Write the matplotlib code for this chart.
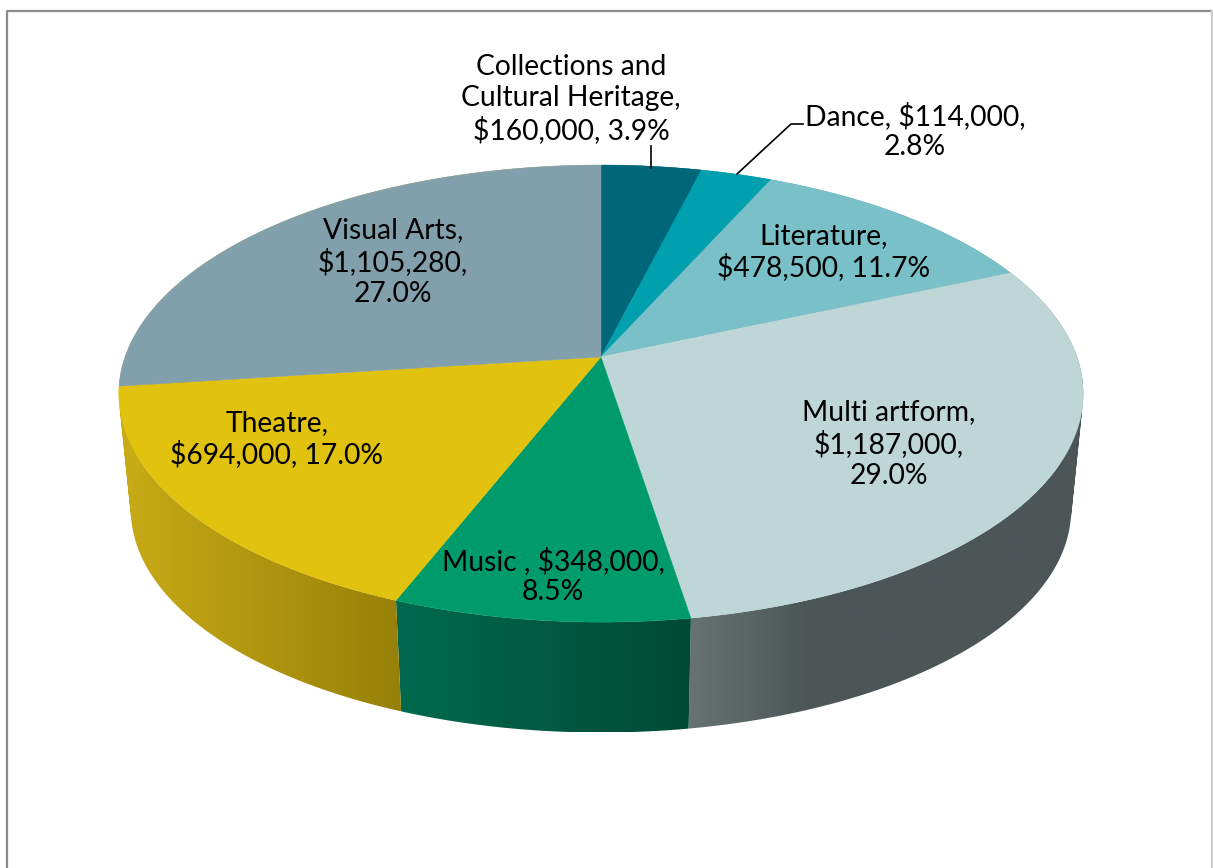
import numpy as np
import matplotlib
matplotlib.use('Agg')
import matplotlib.pyplot as plt
from matplotlib.colors import to_rgb
from matplotlib.patches import PathPatch
from matplotlib.path import Path

categories = ['Collections and Cultural Heritage', 'Dance', 'Literature', 'Multi artform',
              'Music', 'Theatre', 'Visual Arts']
amounts = [160000, 114000, 478500, 1187000, 348000, 694000, 1105280]
labels = ['Collections and\nCultural Heritage,\n$160,000, 3.9%',
          'Dance, $114,000,\n2.8%',
          'Literature,\n$478,500, 11.7%',
          'Multi artform,\n$1,187,000,\n29.0%',
          'Music , $348,000,\n8.5%',
          'Theatre,\n$694,000, 17.0%',
          'Visual Arts,\n$1,105,280,\n27.0%']

top_colors = ['#00677a', '#00a0af', '#7ac0c8', '#bfd6d7', '#009b6a', '#e0c20f', '#82a0ab']
# side wall colours: left end, right end, and how far across the change finishes
side_colors = [('#00505f', '#00505f', 1), ('#007d88', '#007d88', 1), ('#5f959c', '#5f959c', 1),
               ('#677371', '#4c5657', 0.3), ('#006a4e', '#004a34', 1), ('#c8ab16', '#978008', 1),
               ('#c8ab16', '#c8ab16', 1)]
label_pos = [(571, 99), (915, 131), (824, 252), (889, 444), (553, 576), (277, 439), (393, 262)]

# projection of the tilted pie, in pixels
cx, cy = 601, 357
RX, RY, K = 476, 222.7, 0.16
WALL_DROP, WALL_SCALE = 117, 0.975


def project_top(a):
    s = 1 / (1 + K * np.cos(a))
    return cx + RX * np.sin(a) * s, cy - RY * np.cos(a) * s


def project_bottom(a):
    x, y = project_top(a)
    return cx + WALL_SCALE * (x - cx), cy + WALL_DROP + WALL_SCALE * (y - cy)


def wall_path(tx, ty, bx, by):
    # the wall folds over at the pie's sides, so build it from quads that all wind the same way
    quads = []
    for j in range(len(tx) - 1):
        q = np.array([[tx[j], ty[j]], [tx[j + 1], ty[j + 1]], [bx[j + 1], by[j + 1]], [bx[j], by[j]]])
        area = np.sum(q[:, 0] * np.roll(q[:, 1], -1) - np.roll(q[:, 0], -1) * q[:, 1])
        if area < 0:
            q = q[::-1]
        quads.append(Path(np.vstack([q, q[0]]), closed=True))
    return Path.make_compound_path(*quads)


fig = plt.figure(figsize=(12.13, 8.68), dpi=100)
ax = fig.add_axes([0, 0, 1, 1])

edges = np.concatenate([[0], np.cumsum(amounts)]) / np.sum(amounts) * 2 * np.pi

# walls first, the top faces then cover whatever is behind them
for i in range(len(amounts)):
    angles = np.linspace(edges[i], edges[i + 1], 200)
    tx, ty = project_top(angles)
    bx, by = project_bottom(angles)
    outline = PathPatch(wall_path(tx, ty, bx, by), facecolor='none', edgecolor='none')
    ax.add_patch(outline)
    # gradient runs across the wall in x, clipped to the wall outline
    x0, x1 = min(tx.min(), bx.min()), max(tx.max(), bx.max())
    y0, y1 = min(ty.min(), by.min()), max(ty.max(), by.max())
    left, right, reach = side_colors[i]
    f = np.clip(np.linspace(0, 1, 512) / reach, 0, 1)[None, :, None]
    grad = np.array(to_rgb(left)) + (np.array(to_rgb(right)) - np.array(to_rgb(left))) * f
    im = ax.imshow(grad, extent=(x0, x1, y1, y0), aspect='auto', interpolation='bilinear')
    im.set_clip_path(outline)

for i in range(len(amounts)):
    angles = np.linspace(edges[i], edges[i + 1], 200)
    tx, ty = project_top(angles)
    ax.fill(np.r_[cx, tx], np.r_[cy, ty], facecolor=top_colors[i], edgecolor=top_colors[i], lw=0.3)

ax.set_xlim(0, 1213)
ax.set_ylim(868, 0)
ax.axis('off')

# chart frame, runs off the bottom of the picture
ax.plot([7, 7, 1212], [880, 11, 11], color='#8c8c8c', lw=1.6)
ax.plot([1212, 1212], [11, 880], color='#cccccc', lw=1.6)

# leader lines for the two small slices
ax.plot([651, 651], [146, 168], color='black', lw=1.2)
ax.plot([737, 791, 803], [174, 124, 124], color='black', lw=1.2)

for text, (x, y) in zip(labels, label_pos):
    ax.text(x, y, text, ha='center', va='center', fontsize=20.3, family='Lato',
            color='black', linespacing=1.21)

fig.savefig('out.png', dpi=100)
